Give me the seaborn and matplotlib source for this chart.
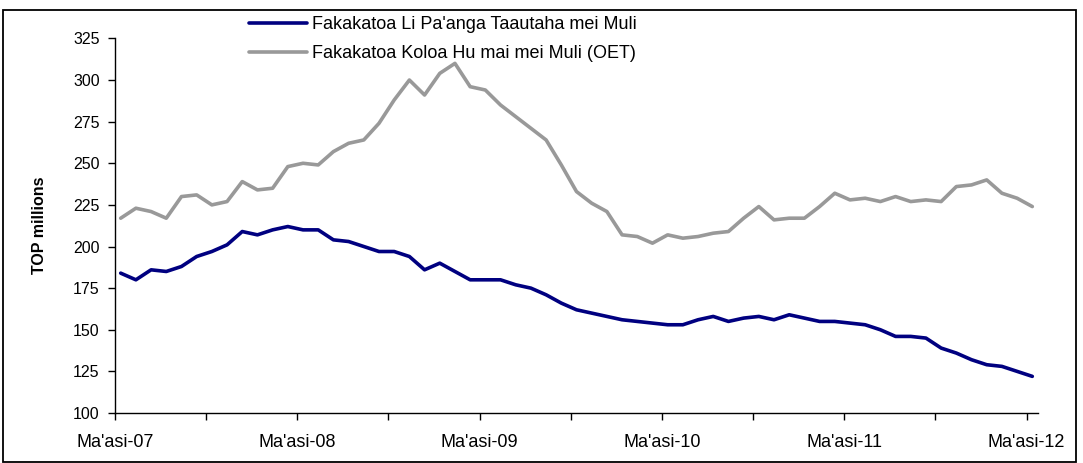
import numpy as np
import pandas as pd
import matplotlib
matplotlib.use("Agg")
import matplotlib.pyplot as plt
import seaborn as sns
from matplotlib.patches import Rectangle

# monthly, Ma'asi-07 .. Ma'asi-12 (TOP millions)
months = pd.date_range("2007-03-01", "2012-03-01", freq="MS")
reserves = [184, 180, 186, 185, 188, 194, 197, 201, 209, 207, 210, 212, 210, 210, 204, 203,
            200, 197, 197, 194, 186, 190, 185, 180, 180, 180, 177, 175, 171, 166, 162, 160,
            158, 156, 155, 154, 153, 153, 156, 158, 155, 157, 158, 156, 159, 157, 155, 155,
            154, 153, 150, 146, 146, 145, 139, 136, 132, 129, 128, 125, 122]
imports = [217, 223, 221, 217, 230, 231, 225, 227, 239, 234, 235, 248, 250, 249, 257, 262,
           264, 274, 288, 300, 291, 304, 310, 296, 294, 285, 278, 271, 264, 249, 233, 226,
           221, 207, 206, 202, 207, 205, 206, 208, 209, 217, 224, 216, 217, 217, 224, 232,
           228, 229, 227, 230, 227, 228, 227, 236, 237, 240, 232, 229, 224]
series_names = ["Fakakatoa Li Pa'anga Taautaha mei Muli",
                "Fakakatoa Koloa Hu mai mei Muli (OET)"]
year_labels = ["Ma'asi-07", "Ma'asi-08", "Ma'asi-09", "Ma'asi-10", "Ma'asi-11", "Ma'asi-12"]

n = len(months)
df = pd.DataFrame({
    "idx": list(range(n)) * 2,
    "value": reserves + imports,
    "series": [series_names[0]] * n + [series_names[1]] * n,
})

sns.set_style("white")
plt.rcParams["font.family"] = ["Liberation Sans", "DejaVu Sans"]
plt.rcParams["text.color"] = "black"
plt.rcParams["axes.labelcolor"] = "black"
plt.rcParams["xtick.color"] = "black"
plt.rcParams["ytick.color"] = "black"

fig = plt.figure(figsize=(10.83, 4.63), dpi=100)
ax = fig.add_axes([115 / 1083, 1 - 413 / 463, (1038 - 115) / 1083, (413 - 38.4) / 463])

lw = 2.6
sns.lineplot(data=df, x="idx", y="value", hue="series", palette=["#000080", "#999999"],
             linewidth=lw, ax=ax, legend=False)

pad = 0.375
ax.set_xlim(-pad, n - 1 + pad)
ax.set_ylim(100, 325)
ax.set_yticks(np.arange(100, 326, 25))
xt = np.arange(0, n, 6) - pad
ax.set_xticks(xt)
ax.set_xticklabels([year_labels[i // 2] if i % 2 == 0 else "" for i in range(len(xt))])
ax.tick_params(axis="x", length=5, width=1, direction="out", pad=10, labelsize=13, bottom=True)
ax.tick_params(axis="y", length=5, width=1, direction="out", pad=6, labelsize=11.5, left=True)
for s in ["top", "right"]:
    ax.spines[s].set_visible(False)
for s in ["left", "bottom"]:
    ax.spines[s].set_color("black")
    ax.spines[s].set_linewidth(1)
ax.set_xlabel("")
ax.set_ylabel("TOP millions", fontsize=11.5, fontweight="bold", labelpad=19)

handles = [plt.Line2D([], [], color=c, linewidth=lw) for c in ["#000080", "#999999"]]
fig.legend(handles, series_names, loc="upper left", bbox_to_anchor=(233 / 1083, 1 - 0 / 463),
           frameon=False, fontsize=13, handlelength=3.2, handletextpad=0.25,
           labelspacing=0.65)

fig.patches.append(Rectangle((3 / 1083, 0.002), 1073 / 1083, 1 - 10 / 463 - 0.002,
                             transform=fig.transFigure, fill=False, edgecolor="black",
                             linewidth=1.3))

fig.savefig("out.png", dpi=100)
